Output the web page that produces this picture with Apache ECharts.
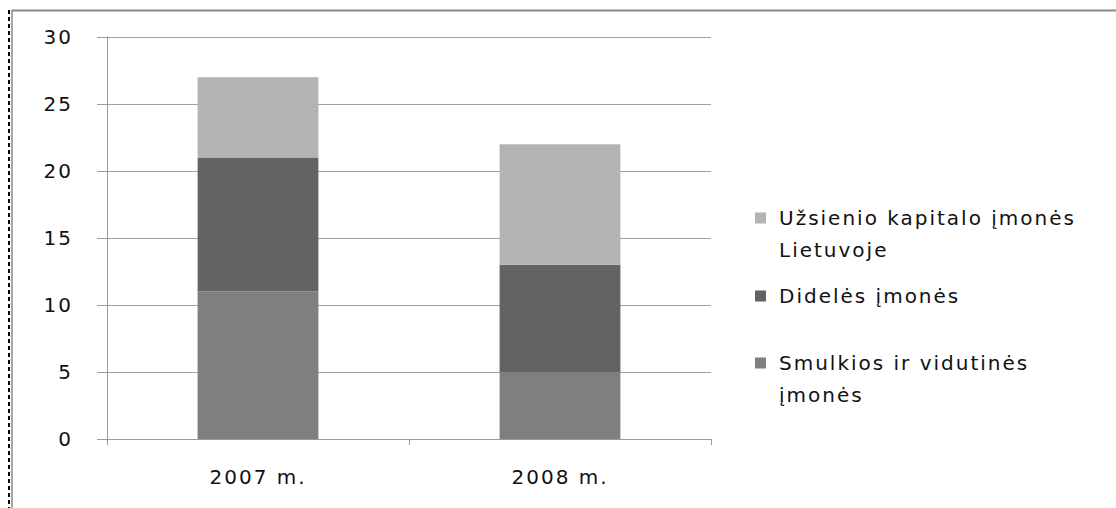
<!DOCTYPE html>
<html>
<head>
<meta charset="utf-8">
<script src="https://cdn.jsdelivr.net/npm/echarts@6/dist/echarts.min.js"></script>
<style>
html,body{margin:0;padding:0;background:#fff;}
#c{width:1116px;height:508px;}
#c svg text{letter-spacing:2px;}
</style>
</head>
<body>
<div id="c"></div>
<script>
var categories = ['2007 m.', '2008 m.'];
var seriesNames = ['Smulkios ir vidutinės įmonės', 'Didelės įmonės', 'Užsienio kapitalo įmonės Lietuvoje'];
var smulkios = [11, 5];
var dideles = [10, 8];
var uzsienio = [6, 9];
var yTicks = [0, 5, 10, 15, 20, 25, 30];

var colors = ['#7f7f7f', '#636363', '#b3b3b3'];
var values = [smulkios, dideles, uzsienio];
var textColor = '#111111';
var font = 'DejaVu Sans';
var fs = 20;

var chart = echarts.init(document.getElementById('c'), null, {renderer: 'svg'});

var series = seriesNames.map(function (n, i) {
  return {
    name: n,
    type: 'bar',
    stack: 'total',
    barWidth: '40%',
    data: values[i],
    itemStyle: {color: colors[i]},
    emphasis: {disabled: true}
  };
});

function legendFor(name, top, fmt) {
  return {
    show: true,
    orient: 'vertical',
    left: 755,
    top: top,
    padding: 0,
    itemWidth: 11,
    itemHeight: 11,
    icon: 'rect',
    selectedMode: false,
    data: [name],
    formatter: function () { return fmt; },
    textStyle: {
      fontFamily: font,
      fontSize: fs,
      color: textColor,
      lineHeight: 32,
      padding: [0, 0, 0, 8]
    }
  };
}

var option = {
  animation: false,
  backgroundColor: '#ffffff',
  grid: {left: 107, right: 405, top: 37, bottom: 69, containLabel: false},
  legend: [
    legendFor(seriesNames[2], 170, '\nUžsienio kapitalo įmonės\nLietuvoje'),
    legendFor(seriesNames[1], 280, 'Didelės įmonės'),
    legendFor(seriesNames[0], 315, '\nSmulkios ir vidutinės\nįmonės')
  ],
  xAxis: {
    type: 'category',
    data: categories,
    axisLine: {lineStyle: {color: '#9a9a9a', width: 1}},
    axisTick: {show: true, length: 6, lineStyle: {color: '#9a9a9a'}},
    axisLabel: {fontFamily: font, fontSize: fs, color: textColor, margin: 28}
  },
  yAxis: {
    type: 'value',
    min: yTicks[0],
    max: yTicks[yTicks.length - 1],
    interval: 5,
    axisLine: {show: true, lineStyle: {color: '#9a9a9a', width: 1}},
    axisTick: {show: true, length: 10, lineStyle: {color: '#9a9a9a'}},
    splitLine: {show: true, lineStyle: {color: '#a0a0a0', width: 1}},
    axisLabel: {fontFamily: font, fontSize: fs, color: textColor, margin: 34}
  },
  graphic: [
    {type: 'line', shape: {x1: 12, y1: 10.5, x2: 1116, y2: 10.5}, style: {stroke: '#8a8a8a', lineWidth: 2}, silent: true},
    {type: 'line', shape: {x1: 12, y1: 10, x2: 12, y2: 508}, style: {stroke: '#8a8a8a', lineWidth: 1.5}, silent: true},
    {type: 'line', shape: {x1: 9, y1: 10, x2: 9, y2: 508}, style: {stroke: '#000000', lineWidth: 2, lineDash: [4, 3]}, silent: true}
  ],
  series: series
};
chart.setOption(option);
</script>
</body>
</html>
